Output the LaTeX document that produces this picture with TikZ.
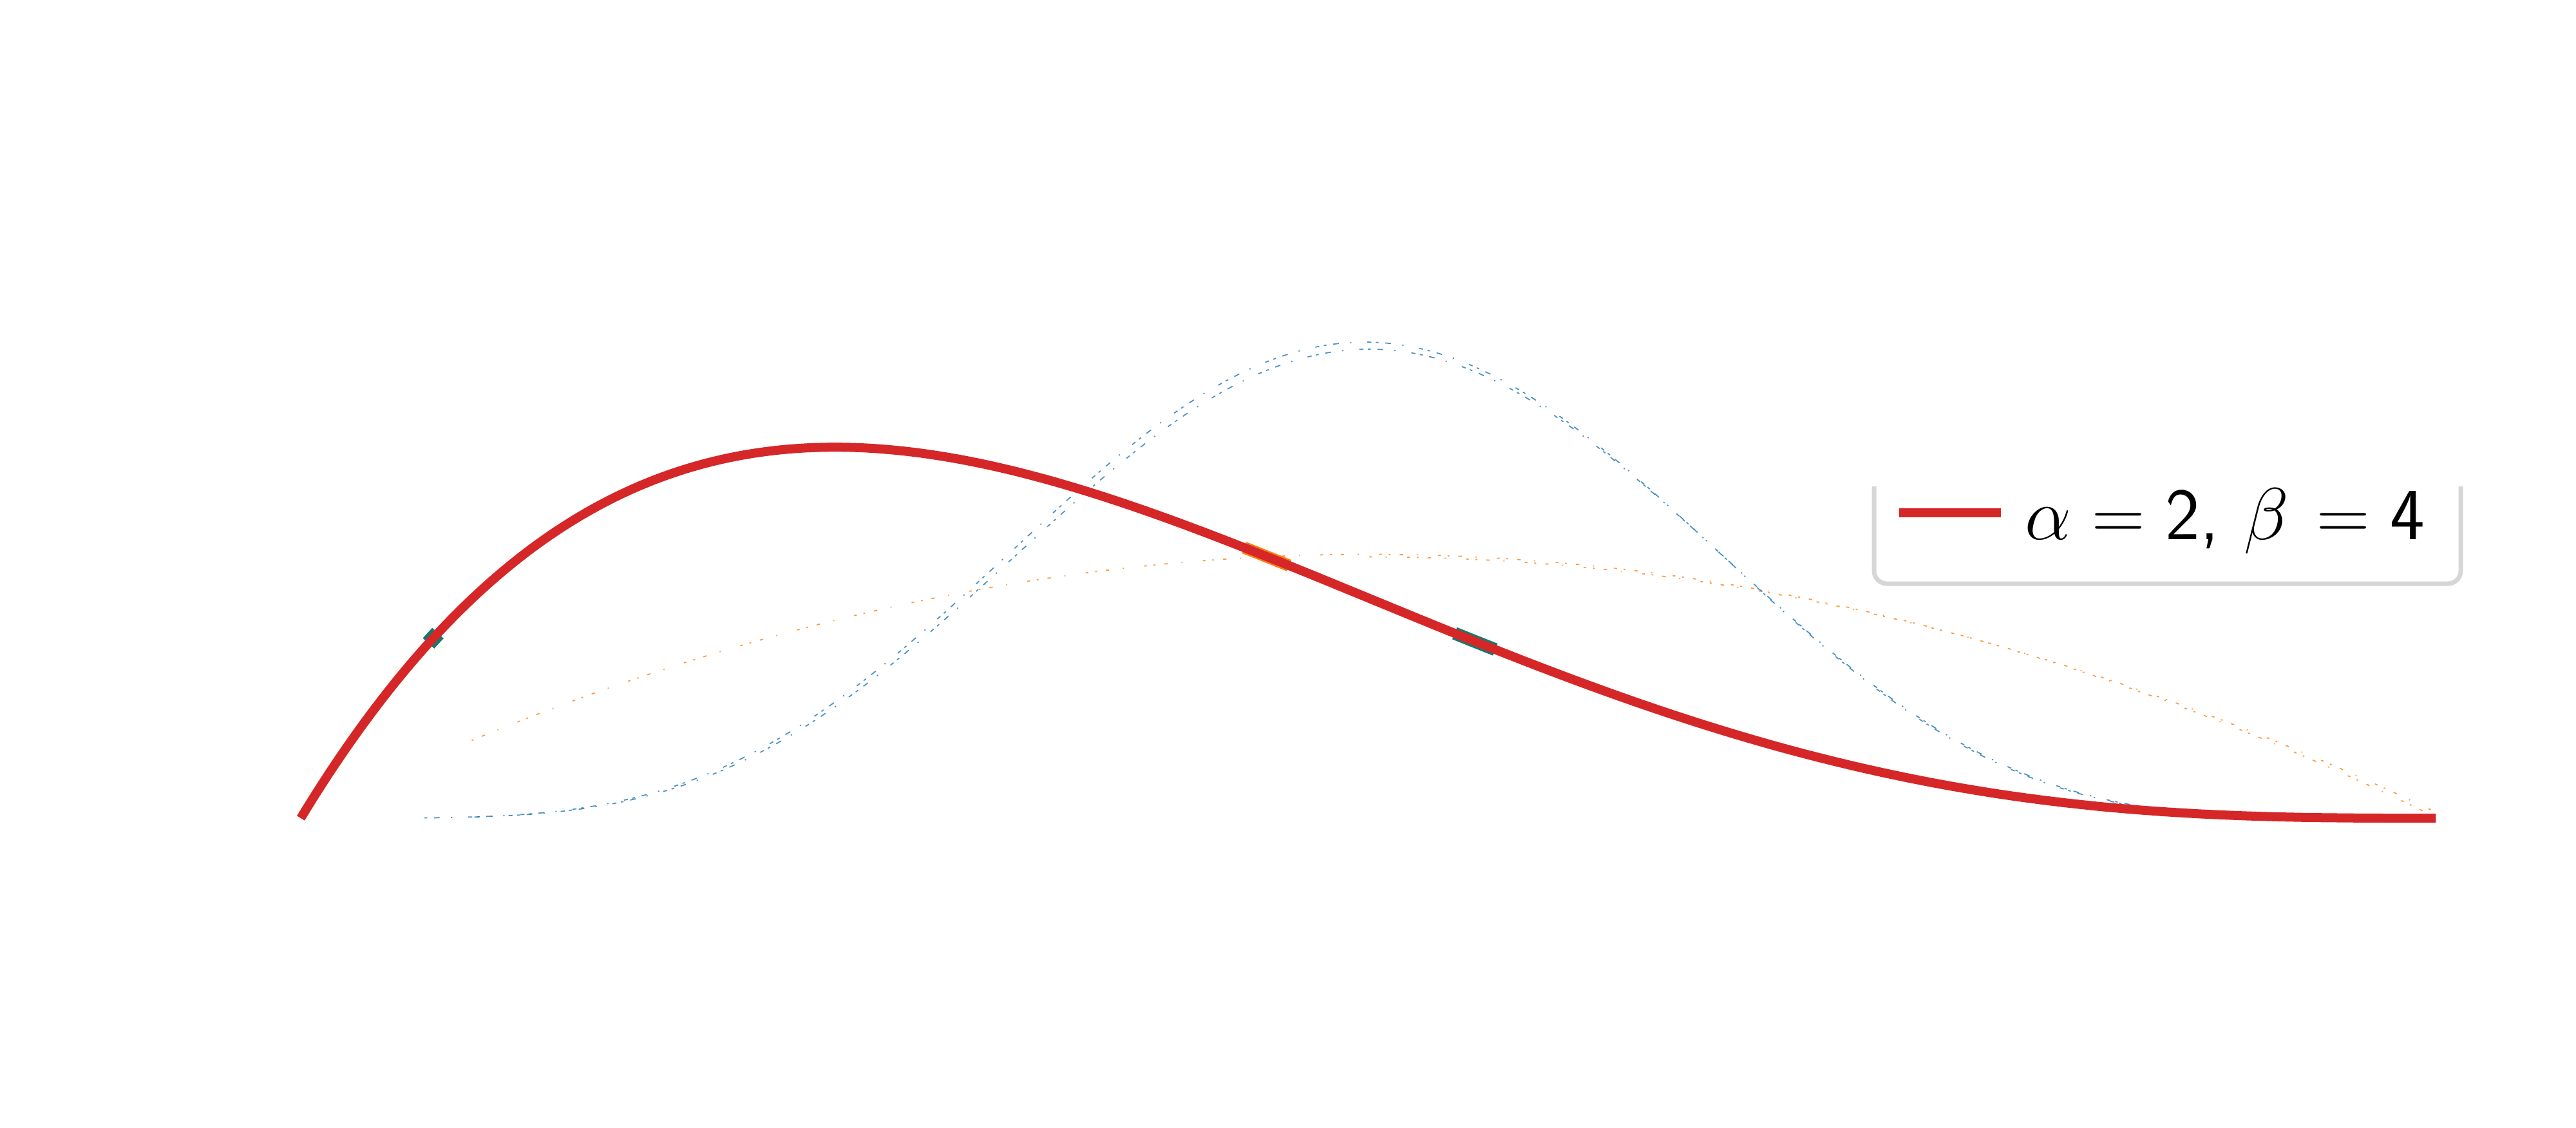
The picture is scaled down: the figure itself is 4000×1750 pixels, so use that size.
\RequirePackage{fix-cm}
\documentclass[tikz,border=0pt]{standalone}
\definecolor{tabred}{HTML}{D62728}
\definecolor{tabblue}{HTML}{1F77B4}
\definecolor{taborange}{HTML}{FF7F0E}
\definecolor{tealspot}{HTML}{127A6E}
\definecolor{legframe}{HTML}{D6D6D6}
\tikzset{
  redcurve/.style={draw=tabred, line width=0.14cm},
  faintblue/.style={draw=tabblue, line width=0.5pt, opacity=0.8,
    dash pattern=on 1.2pt off 3pt on 2.5pt off 5pt on 0.6pt off 7pt on 1.8pt off 2pt},
  faintorange/.style={draw=taborange, line width=0.5pt, opacity=0.8,
    dash pattern=on 0.8pt off 4pt on 1.5pt off 6pt on 0.5pt off 9pt on 1.2pt off 3pt},
  legbox/.style={draw=legframe, line width=0.07cm, rounded corners=0.2cm},
  legtext/.style={inner sep=0pt, anchor=base west, font=\fontsize{32.5}{38}\selectfont}
}
\begin{document}
\begin{tikzpicture}[x=0.01cm, y=-0.01cm]
\useasboundingbox (0,0) rectangle (4000,1750);
% faint blue traces (Beta(6,6)-like)
\draw[faintblue] plot[domain=0.06:0.94, samples=220, smooth]
  ({460+3318*\x},{1270-739*(4*\x*(1-\x))^5});
\draw[faintblue, dash phase=3pt] plot[domain=0.08:0.92, samples=220, smooth]
  ({467+3318*\x},{1270-728*(4*\x*(1-\x))^5});
% faint orange traces (Beta(2,2))
\draw[faintorange] plot[domain=0.08:1, samples=200, smooth]
  ({467+3318*\x},{1270-1638*\x*(1-\x)});
\draw[faintorange, dash phase=5pt] plot[domain=0.5:1, samples=120, smooth]
  ({467+3318*\x},{1262-1590*\x*(1-\x)});
% overlap spots
\draw[draw=tealspot, line width=0.24cm] plot[domain=0.0598:0.0642, samples=5]
  ({467+3318*\x},{1270-5460*\x*(1-\x)^3});
\draw[draw=tealspot, line width=0.2cm] plot[domain=0.540:0.559, samples=8]
  ({467+3318*\x},{1270-5460*\x*(1-\x)^3});
\draw[draw=taborange, line width=0.19cm] plot[domain=0.4415:0.4626, samples=8]
  ({467+3318*\x},{1270-5460*\x*(1-\x)^3});
% red curve Beta(2,4)
\draw[redcurve] plot[domain=0:1, samples=300, smooth]
  ({467+3318*\x},{1270-5460*\x*(1-\x)^3});
% legend
\coordinate (lbtl) at (2910,755);
\coordinate (lbbl) at (2910,906);
\coordinate (lbbr) at (3821,906);
\coordinate (lbtr) at (3821,755);
\draw[legbox] (lbtl) -- (lbbl) -- (lbbr) -- (lbtr);
\coordinate (lla) at (2949,796);
\coordinate (llb) at (3107,796);
\draw[redcurve] (lla) -- (llb);
\node[legtext] (ltext) at (3144,837) {$\alpha=\mathsf{2}$\textsf{,}\kern1pt\ $\beta\kern3.5pt=\mathsf{4}$};
\end{tikzpicture}
\end{document}
